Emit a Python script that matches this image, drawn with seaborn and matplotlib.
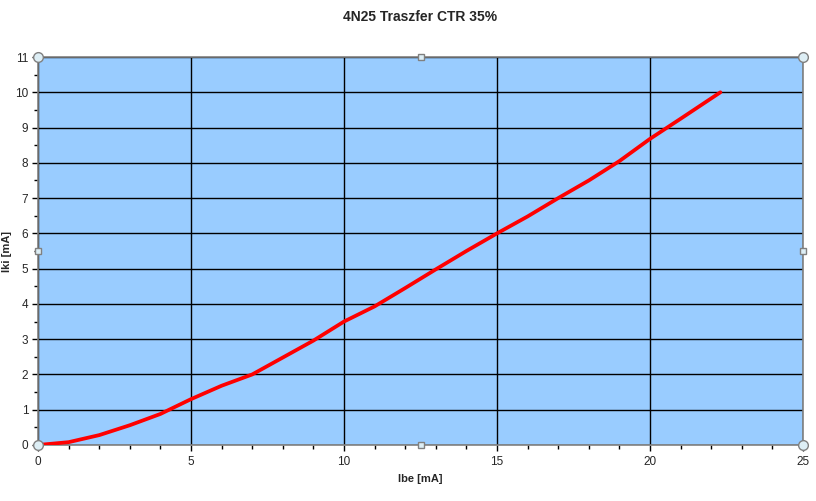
import matplotlib
matplotlib.use('Agg')
import matplotlib.pyplot as plt
import pandas as pd
import seaborn as sns

# Values
ibe = [0, 1, 2, 3, 4, 5, 6, 7, 8, 9, 10, 11, 12, 13, 14, 15, 16, 17, 18, 19, 20, 21, 22.3]
iki = [0, 0.08, 0.28, 0.56, 0.88, 1.30, 1.68, 2.0, 2.48, 2.96, 3.5, 3.93, 4.45, 4.98, 5.5, 6.0,
       6.48, 7.0, 7.5, 8.05, 8.68, 9.25, 10.0]

title = '4N25 Traszfer CTR 35%'
x_label = 'Ibe [mA]'
y_label = 'Iki [mA]'

df = pd.DataFrame({'Ibe': ibe, 'Iki': iki})

sns.set_style('white')
plt.rcParams['font.family'] = ['Liberation Sans', 'DejaVu Sans']

fig = plt.figure(figsize=(8.16, 5.01), dpi=100)
ax = fig.add_axes([0.0466, 0.1118, 0.9375, 0.7744])
ax.set_facecolor('#99CCFF')

sns.lineplot(data=df, x='Ibe', y='Iki', color='#FF0000', linewidth=2.7, ax=ax, zorder=3)

ax.set_xlim(0, 25)
ax.set_ylim(0, 11)
ax.set_xticks(range(0, 26, 5))
ax.set_xticks(range(0, 26, 1), minor=True)
ax.set_yticks(range(0, 12, 1))
ax.set_yticks([i / 2 for i in range(0, 23)], minor=True)
ax.grid(True, which='major', color='black', linewidth=1)
ax.set_axisbelow(True)
for s in ax.spines.values():
    s.set_color('#808080')
    s.set_linewidth(1.2)
ax.tick_params(which='both', bottom=True, left=True, direction='out', color='black', labelsize=8.5)
ax.tick_params(which='major', length=4, width=1)
ax.tick_params(which='minor', length=3, width=1)
ax.tick_params(axis='x', pad=4)
ax.tick_params(axis='y', pad=3)

ax.set_xlabel(x_label, fontsize=8, fontweight='bold', labelpad=4)
ax.set_ylabel(y_label, fontsize=8, fontweight='bold', labelpad=2)
fig.suptitle(title, fontsize=10, fontweight='bold', y=0.98, x=0.515)

# selection handles around the plot area
for hx, hy in [(0, 0), (0, 1), (1, 0), (1, 1)]:
    ax.plot(hx, hy, 'o', ms=7, mfc='#DDEEF5', mec='#808080', mew=1,
            transform=ax.transAxes, clip_on=False, zorder=5)
for hx, hy in [(0.5, 0), (0.5, 1), (0, 0.5), (1, 0.5)]:
    ax.plot(hx, hy, 's', ms=5, mfc='#DDEEF5', mec='#808080', mew=1,
            transform=ax.transAxes, clip_on=False, zorder=5)

plt.savefig('out.png', dpi=100)
